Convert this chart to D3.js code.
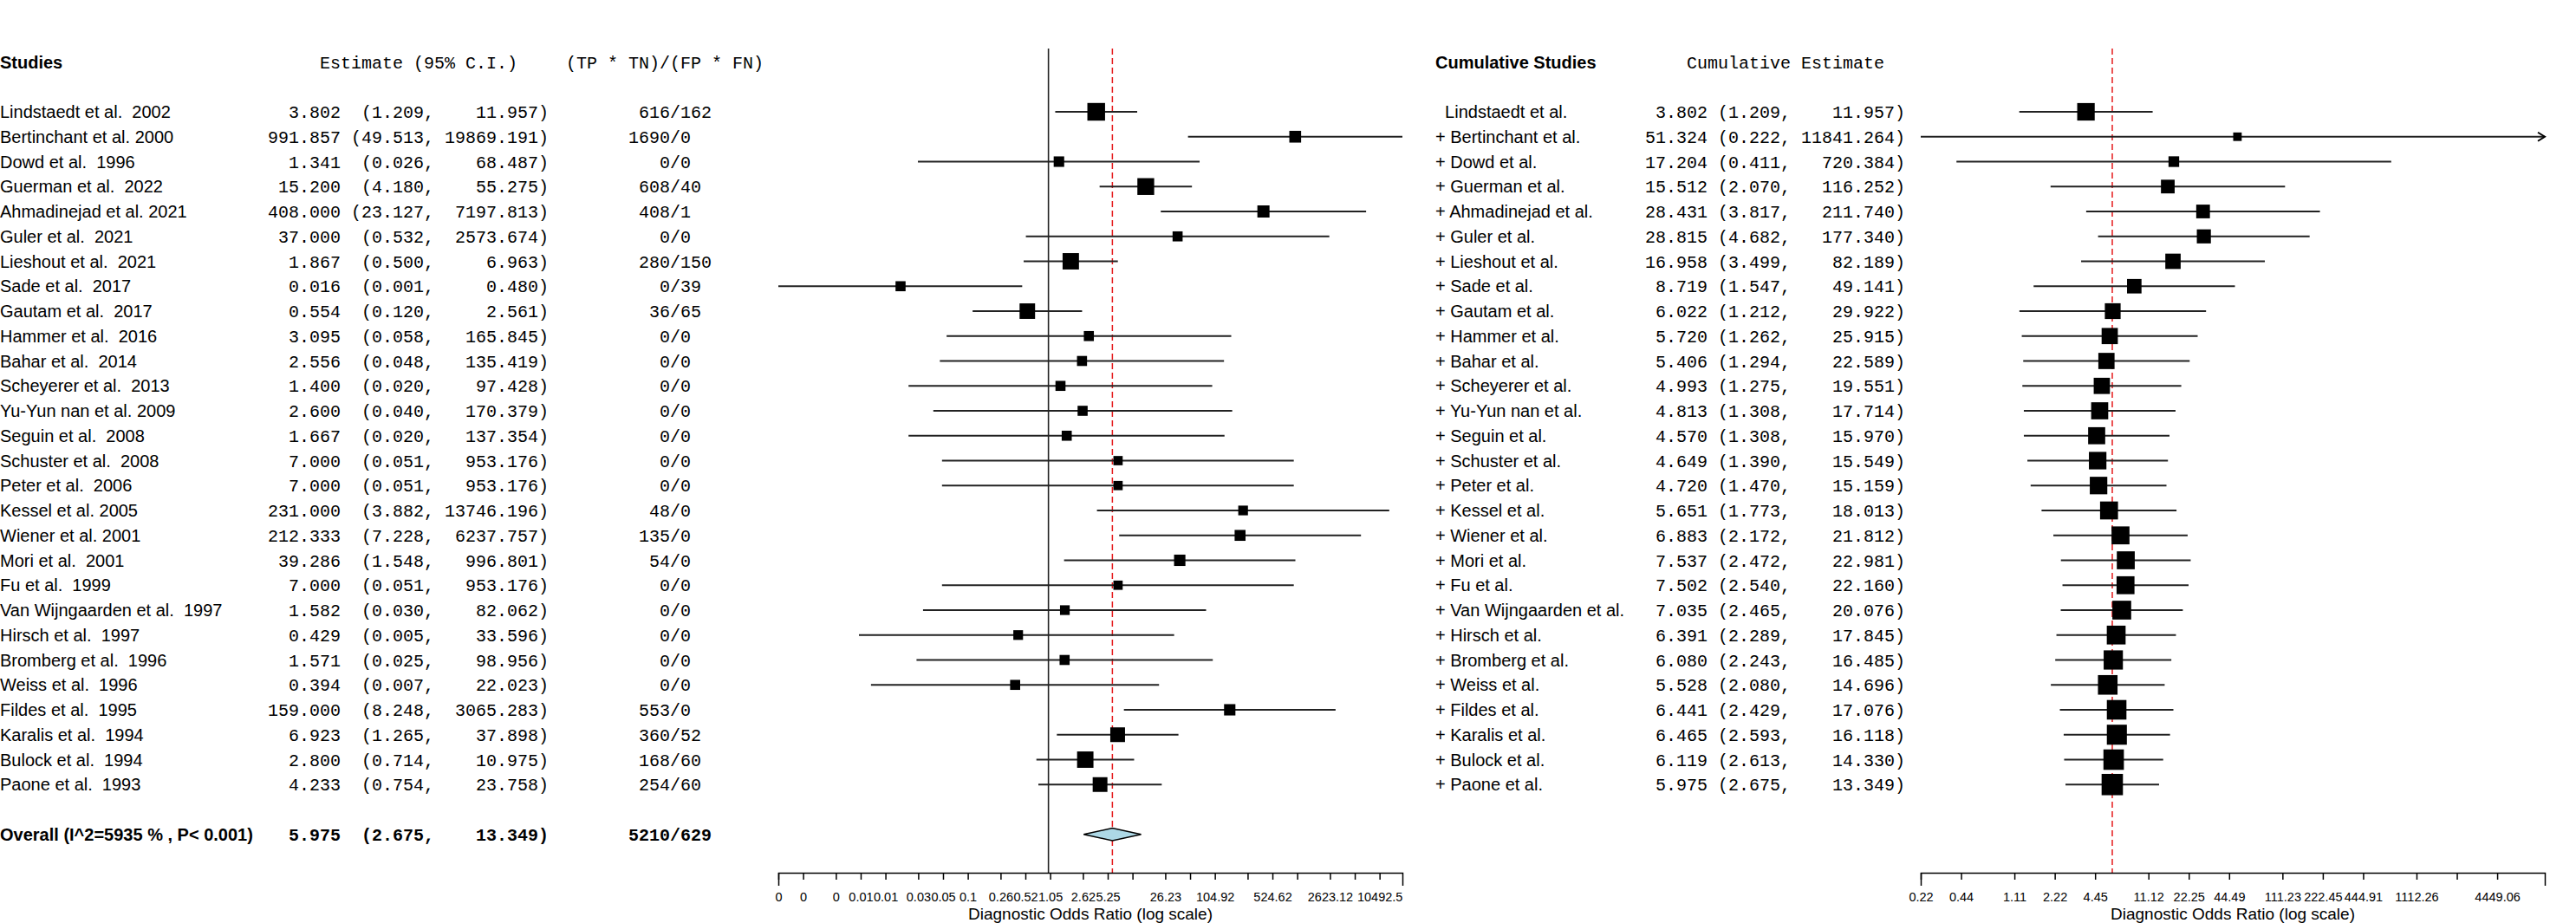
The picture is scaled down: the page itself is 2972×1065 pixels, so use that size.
<!DOCTYPE html>
<html>
<head>
<meta charset="utf-8">
<script src="https://cdn.jsdelivr.net/npm/d3@7"></script>
<style>
  body { margin: 0; background: #fff; }
  text { white-space: pre; fill: #000; }
  .sans { font-family: "Liberation Sans", Arial, sans-serif; font-size: 20px; }
  .mono { font-family: "Liberation Mono", "Courier New", monospace; font-size: 20px; }
  .bold { font-weight: bold; }
  .axis path, .axis line { stroke: #000; stroke-width: 1.5; }
  .axis .tick text { font-family: "Liberation Sans", Arial, sans-serif; font-size: 14.5px; }
  .axis-title { font-family: "Liberation Sans", Arial, sans-serif; font-size: 19px; }
</style>
</head>
<body>
<svg id="chart"></svg>
<script>
// ---- study rows ----
var studies = [
  "Lindstaedt et al.  2002", "Bertinchant et al. 2000", "Dowd et al.  1996", "Guerman et al.  2022",
  "Ahmadinejad et al. 2021", "Guler et al.  2021", "Lieshout et al.  2021", "Sade et al.  2017",
  "Gautam et al.  2017", "Hammer et al.  2016", "Bahar et al.  2014", "Scheyerer et al.  2013",
  "Yu-Yun nan et al. 2009", "Seguin et al.  2008", "Schuster et al.  2008", "Peter et al.  2006",
  "Kessel et al. 2005", "Wiener et al. 2001", "Mori et al.  2001", "Fu et al.  1999",
  "Van Wijngaarden et al.  1997", "Hirsch et al.  1997", "Bromberg et al.  1996", "Weiss et al.  1996",
  "Fildes et al.  1995", "Karalis et al.  1994", "Bulock et al.  1994", "Paone et al.  1993"
];
var estimates = [3.802, 991.857, 1.341, 15.200, 408.000, 37.000, 1.867, 0.016,
  0.554, 3.095, 2.556, 1.400, 2.600, 1.667, 7.000, 7.000,
  231.000, 212.333, 39.286, 7.000, 1.582, 0.429, 1.571, 0.394,
  159.000, 6.923, 2.800, 4.233];
var lowers = [1.209, 49.513, 0.026, 4.180, 23.127, 0.532, 0.500, 0.000525,
  0.120, 0.058, 0.048, 0.020, 0.040, 0.020, 0.051, 0.051,
  3.882, 7.228, 1.548, 0.051, 0.030, 0.005, 0.025, 0.007,
  8.248, 1.265, 0.714, 0.754];
var uppers = [11.957, 19869.191, 68.487, 55.275, 7197.813, 2573.674, 6.963, 0.480,
  2.561, 165.845, 135.419, 97.428, 170.379, 137.354, 953.176, 953.176,
  13746.196, 6237.757, 996.801, 953.176, 82.062, 33.596, 98.956, 22.023,
  3065.283, 37.898, 10.975, 23.758];
var ratioTop = [616, 1690, 0, 608, 408, 0, 280, 0, 36, 0, 0, 0, 0, 0, 0, 0,
  48, 135, 54, 0, 0, 0, 0, 0, 553, 360, 168, 254];
var ratioBottom = [162, 0, 0, 40, 1, 0, 150, 39, 65, 0, 0, 0, 0, 0, 0, 0,
  0, 0, 0, 0, 0, 0, 0, 0, 0, 52, 60, 60];
// relative study weights (box area), largest = 100
var weights = [100, 44.4, 35.2, 90.4, 47.1, 32.3, 85.8, 32.3,
  77.0, 32.3, 32.3, 32.3, 32.3, 32.3, 27.5, 27.5,
  30.1, 38.1, 41.2, 27.5, 30.1, 30.1, 32.3, 32.3,
  41.2, 69.4, 85.8, 69.4];

// ---- overall ----
var overallLabel = "Overall (I^2=5935 % , P< 0.001)";
var overallCI = [5.975, 2.675, 13.349];
var overallRatio = [5210, 629];

// ---- cumulative rows ----
var cumStudies = [
  "  Lindstaedt et al.", "+ Bertinchant et al.", "+ Dowd et al.", "+ Guerman et al.",
  "+ Ahmadinejad et al.", "+ Guler et al.", "+ Lieshout et al.", "+ Sade et al.",
  "+ Gautam et al.", "+ Hammer et al.", "+ Bahar et al.", "+ Scheyerer et al.",
  "+ Yu-Yun nan et al.", "+ Seguin et al.", "+ Schuster et al.", "+ Peter et al.",
  "+ Kessel et al.", "+ Wiener et al.", "+ Mori et al.", "+ Fu et al.",
  "+ Van Wijngaarden et al.", "+ Hirsch et al.", "+ Bromberg et al.", "+ Weiss et al.",
  "+ Fildes et al.", "+ Karalis et al.", "+ Bulock et al.", "+ Paone et al."
];
var cumEstimates = [3.802, 51.324, 17.204, 15.512, 28.431, 28.815, 16.958, 8.719,
  6.022, 5.720, 5.406, 4.993, 4.813, 4.570, 4.649, 4.720,
  5.651, 6.883, 7.537, 7.502, 7.035, 6.391, 6.080, 5.528,
  6.441, 6.465, 6.119, 5.975];
var cumLowers = [1.209, 0.22245, 0.411, 2.070, 3.817, 4.682, 3.499, 1.547,
  1.212, 1.262, 1.294, 1.275, 1.308, 1.308, 1.390, 1.470,
  1.773, 2.172, 2.472, 2.540, 2.465, 2.289, 2.243, 2.080,
  2.429, 2.593, 2.613, 2.675];
var cumUppers = [11.957, 11841.264, 720.384, 116.252, 211.740, 177.340, 82.189, 49.141,
  29.922, 25.915, 22.589, 19.551, 17.714, 15.970, 15.549, 15.159,
  18.013, 21.812, 22.981, 22.160, 20.076, 17.845, 16.485, 14.696,
  17.076, 16.118, 14.330, 13.349];
var cumWeights = [67.4, 15.9, 25.0, 41.3, 41.3, 43.4, 51.8, 46.1,
  54.7, 57.8, 57.8, 57.8, 64.1, 64.1, 67.4, 67.4,
  70.8, 70.8, 70.8, 70.8, 77.8, 77.8, 81.4, 84.4,
  84.4, 88.2, 92.0, 100];
var cumAxisMax = 10080;

// ---- axis ticks ----
var leftTicks = [0.000524625, 0.00104925, 0.00262312, 0.00524625, 0.0104925, 0.0262312,
  0.0524625, 0.104925, 0.262312, 0.524625, 1.04925, 2.62312, 5.24625, 10.4925,
  26.2312, 52.4625, 104.925, 262.312, 524.625, 1049.25, 2623.12, 5246.25, 10492.5];
var leftTickLabels = ["0", "0", "0", "0.01", "0.01", "0.03", "0.05", "0.1", "0.26", "0.52",
  "1.05", "2.62", "5.25", "", "26.23", "", "104.92", "", "524.62", "", "2623.12", "", "10492.5"];
var rightTicks = [0.222453, 0.444906, 1.11227, 2.22453, 4.44906, 11.1227, 22.2453,
  44.4906, 111.227, 222.453, 444.906, 1112.26, 2224.53, 4449.06];
var rightTickLabels = ["0.22", "0.44", "1.11", "2.22", "4.45", "11.12", "22.25", "44.49",
  "111.23", "222.45", "444.91", "1112.26", "", "4449.06"];

// ---- layout ----
var W = 2972, H = 1065;
var plotTop = 56, axisY = 1007;
var rowY = function (i) { return 129 + 28.75 * i; };

var svg = d3.select("#chart").attr("width", W).attr("height", H);
svg.append("rect").attr("width", W).attr("height", H).attr("fill", "#fff");

var xL = d3.scaleLog().domain([d3.min(lowers), d3.max(uppers)]).range([898, 1618]);
var xR = d3.scaleLog().domain([d3.min(cumLowers), cumAxisMax]).range([2216, 2936]);
var sizeL = d3.scaleSqrt().domain([0, 100]).range([0, 20.4]);
var sizeR = d3.scaleSqrt().domain([0, 100]).range([0, 24.6]);

function fmt(v) { return v.toFixed(3); }
function ciText(e, l, u, w) {
  return fmt(e).padStart(w) + " " + ("(" + fmt(l) + ",").padStart(w === 7 ? 8 : 7) + " " + (fmt(u) + ")").padStart(10);
}

function addText(x, y, str, cls) {
  svg.append("text")
    .attr("class", cls)
    .attr("x", x).attr("y", y).attr("dy", "0.35em")
    .attr("xml:space", "preserve")
    .text(str);
}

// ---- headers ----
addText(0, rowY(-2), "Studies", "sans bold");
addText(369, rowY(-2), "Estimate (95% C.I.)", "mono");
addText(653, rowY(-2), "(TP * TN)/(FP * FN)", "mono");
addText(1656, rowY(-2), "Cumulative Studies", "sans bold");
addText(1946, rowY(-2), "Cumulative Estimate", "mono");

// ---- left table ----
studies.forEach(function (s, i) {
  addText(0, rowY(i), s, "sans");
  addText(309, rowY(i), ciText(estimates[i], lowers[i], uppers[i], 7), "mono");
  addText(725, rowY(i), String(ratioTop[i]).padStart(4) + "/" + ratioBottom[i], "mono");
});
var oRow = studies.length + 1;
addText(0, rowY(oRow), overallLabel, "sans bold");
addText(309, rowY(oRow), ciText(overallCI[0], overallCI[1], overallCI[2], 7), "mono bold");
addText(725, rowY(oRow), String(overallRatio[0]).padStart(4) + "/" + overallRatio[1], "mono bold");

// ---- cumulative table ----
cumStudies.forEach(function (s, i) {
  addText(1656, rowY(i), s, "sans");
  addText(1898, rowY(i), ciText(cumEstimates[i], cumLowers[i], cumUppers[i], 6), "mono");
});

// ---- left forest plot ----
var gL = svg.append("g");
gL.append("line")
  .attr("x1", xL(1)).attr("x2", xL(1))
  .attr("y1", plotTop).attr("y2", axisY)
  .attr("stroke", "#222").attr("stroke-width", 1.6);
gL.append("line")
  .attr("x1", xL(overallCI[0])).attr("x2", xL(overallCI[0]))
  .attr("y1", plotTop).attr("y2", axisY)
  .attr("stroke", "#e41a1c").attr("stroke-width", 1.5).attr("stroke-dasharray", "7,4");

gL.selectAll(".ci").data(studies).enter().append("line")
  .attr("x1", function (d, i) { return xL(lowers[i]); })
  .attr("x2", function (d, i) { return xL(uppers[i]); })
  .attr("y1", function (d, i) { return rowY(i); })
  .attr("y2", function (d, i) { return rowY(i); })
  .attr("stroke", "#222").attr("stroke-width", 2);
gL.selectAll(".box").data(studies).enter().append("rect")
  .attr("x", function (d, i) { return xL(estimates[i]) - sizeL(weights[i]) / 2; })
  .attr("y", function (d, i) { return rowY(i) - sizeL(weights[i]) / 2; })
  .attr("width", function (d, i) { return sizeL(weights[i]); })
  .attr("height", function (d, i) { return sizeL(weights[i]); })
  .attr("fill", "#000");

var oy = rowY(oRow);
gL.append("path")
  .attr("d", "M" + xL(overallCI[1]) + "," + oy +
             "L" + xL(overallCI[0]) + "," + (oy - 7.3) +
             "L" + xL(overallCI[2]) + "," + oy +
             "L" + xL(overallCI[0]) + "," + (oy + 7.3) + "Z")
  .attr("fill", "#add8e6").attr("stroke", "#000").attr("stroke-width", 1.5);

svg.append("g").attr("class", "axis")
  .attr("transform", "translate(0," + axisY + ")")
  .call(d3.axisBottom(xL).tickValues(leftTicks)
    .tickFormat(function (d, i) { return leftTickLabels[i]; })
    .tickSize(8).tickSizeOuter(15).tickPadding(15))
  .attr("font-size", null).attr("font-family", null);
svg.append("text").attr("class", "axis-title")
  .attr("x", (xL.range()[0] + xL.range()[1]) / 2).attr("y", 1061)
  .attr("text-anchor", "middle")
  .text("Diagnostic Odds Ratio (log scale)");

// ---- cumulative forest plot ----
var gR = svg.append("g");
gR.append("line")
  .attr("x1", xR(overallCI[0])).attr("x2", xR(overallCI[0]))
  .attr("y1", plotTop).attr("y2", axisY)
  .attr("stroke", "#e41a1c").attr("stroke-width", 1.5).attr("stroke-dasharray", "7,4");

var xRmax = xR.range()[1];
gR.selectAll(".ci").data(cumStudies).enter().append("line")
  .attr("x1", function (d, i) { return xR(cumLowers[i]); })
  .attr("x2", function (d, i) { return Math.min(xR(cumUppers[i]), xRmax); })
  .attr("y1", function (d, i) { return rowY(i); })
  .attr("y2", function (d, i) { return rowY(i); })
  .attr("stroke", "#222").attr("stroke-width", 2);
// arrow heads for intervals that run past the axis
gR.selectAll(".arrow").data(cumUppers.map(function (u, i) { return i; })
    .filter(function (i) { return cumUppers[i] > cumAxisMax; }))
  .enter().append("path")
  .attr("d", function (i) {
    var y = rowY(i);
    return "M" + (xRmax - 8) + "," + (y - 5) + "L" + xRmax + "," + y + "L" + (xRmax - 8) + "," + (y + 5);
  })
  .attr("fill", "none").attr("stroke", "#000").attr("stroke-width", 2);
gR.selectAll(".box").data(cumStudies).enter().append("rect")
  .attr("x", function (d, i) { return xR(cumEstimates[i]) - sizeR(cumWeights[i]) / 2; })
  .attr("y", function (d, i) { return rowY(i) - sizeR(cumWeights[i]) / 2; })
  .attr("width", function (d, i) { return sizeR(cumWeights[i]); })
  .attr("height", function (d, i) { return sizeR(cumWeights[i]); })
  .attr("fill", "#000");

svg.append("g").attr("class", "axis")
  .attr("transform", "translate(0," + axisY + ")")
  .call(d3.axisBottom(xR).tickValues(rightTicks)
    .tickFormat(function (d, i) { return rightTickLabels[i]; })
    .tickSize(8).tickSizeOuter(15).tickPadding(15))
  .attr("font-size", null).attr("font-family", null);
svg.append("text").attr("class", "axis-title")
  .attr("x", (xR.range()[0] + xR.range()[1]) / 2).attr("y", 1061)
  .attr("text-anchor", "middle")
  .text("Diagnostic Odds Ratio (log scale)");
</script>
</body>
</html>
